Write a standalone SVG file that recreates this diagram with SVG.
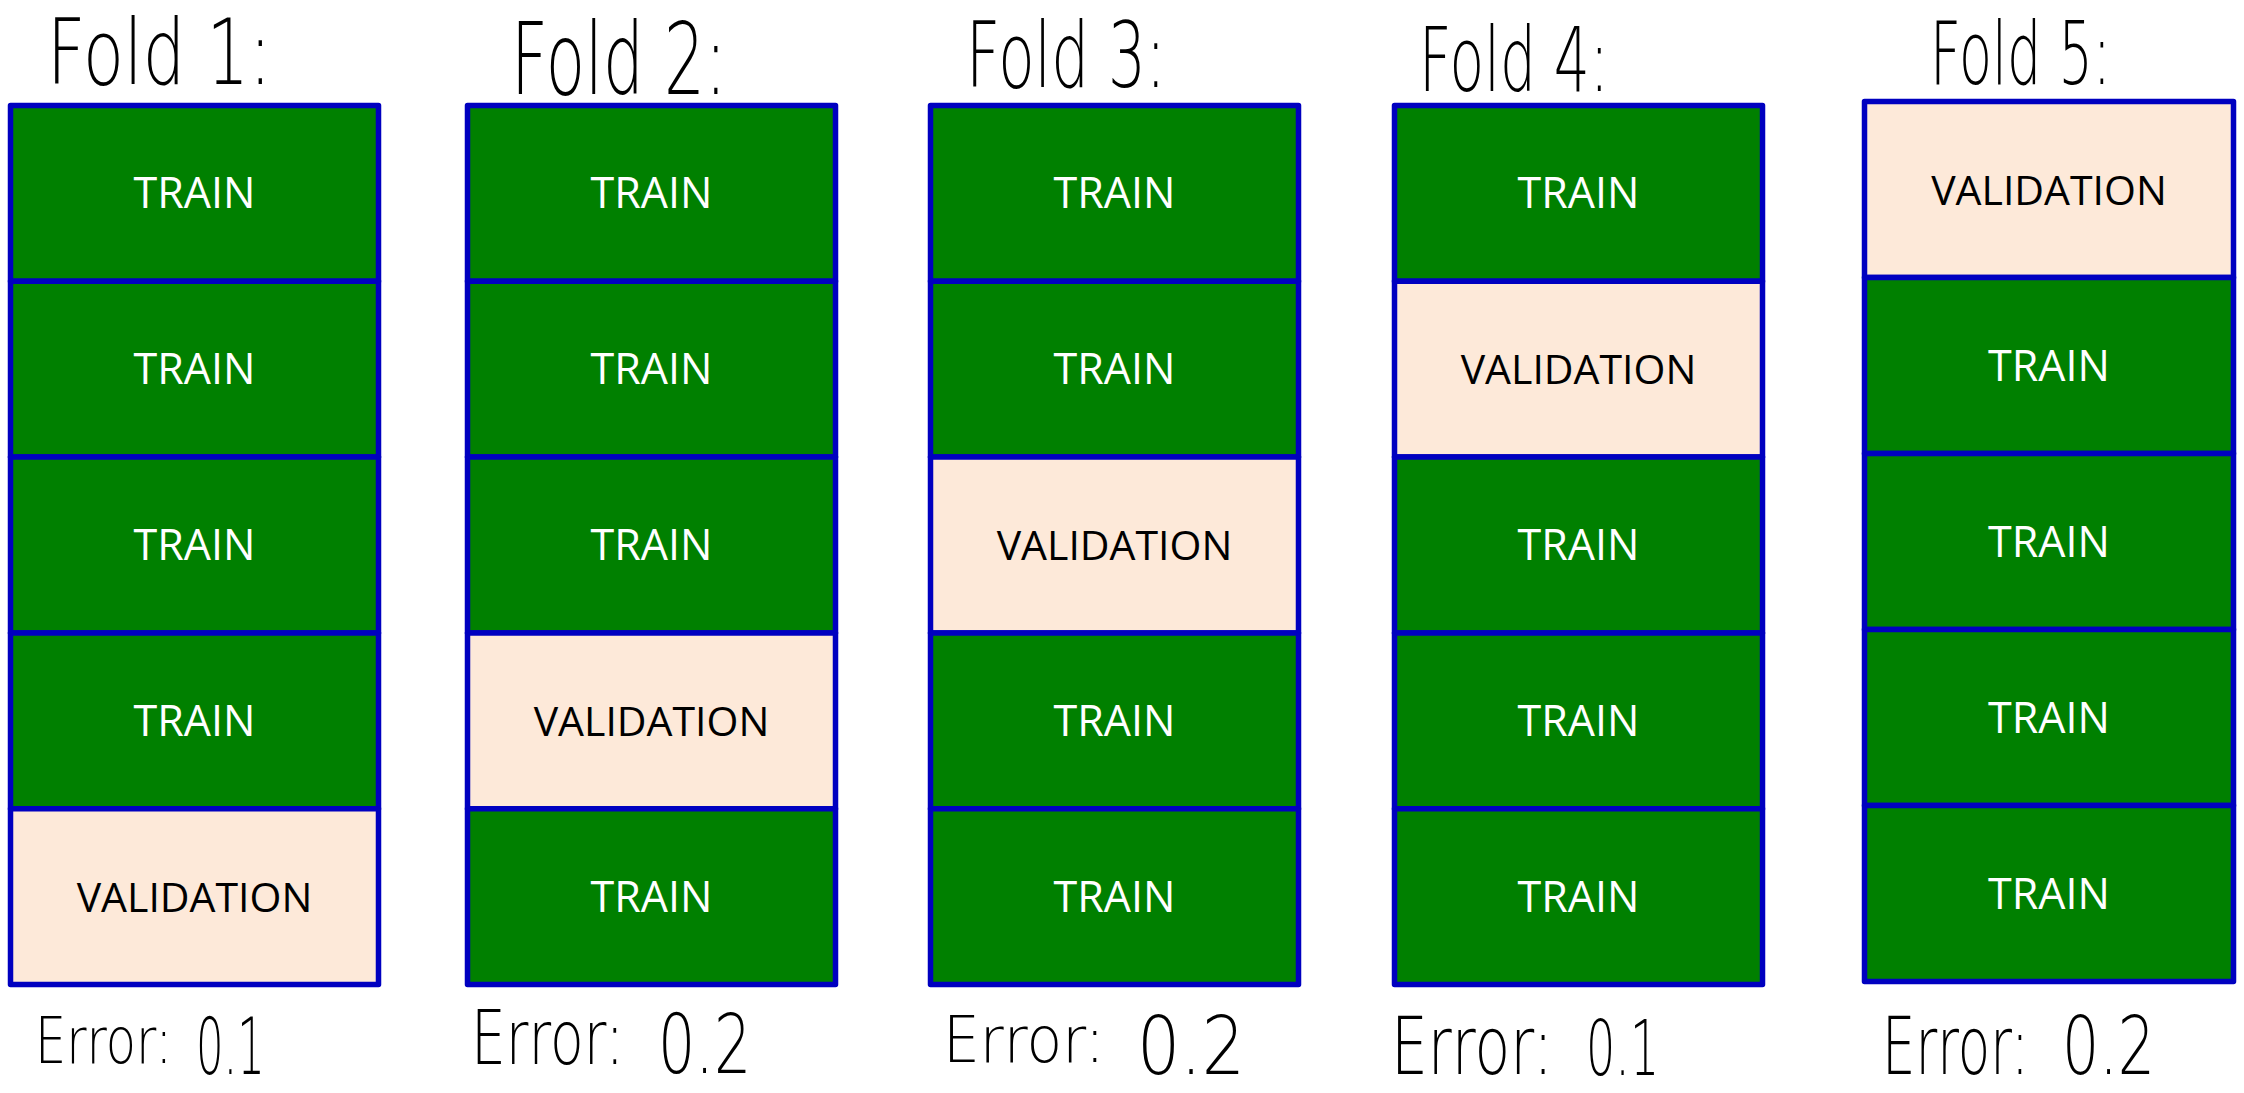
<svg xmlns="http://www.w3.org/2000/svg" width="2244" height="1093" viewBox="0 0 2244 1093">
<style>
.cell{stroke:#0000C0;stroke-width:5.5;stroke-linejoin:round}
.tr{fill:#008000}
.va{fill:#FDE9D9}
.lbl{font-family:"Open Sans","Noto Sans","Liberation Sans",sans-serif;text-anchor:middle}
.lt{fill:#FFFFFF;font-size:43px}
.lv{fill:#000000;font-size:41px}
.hand{font-family:"DejaVu Sans","Liberation Sans",sans-serif;font-weight:200;fill:#000000}
</style>
<rect width="2244" height="1093" fill="#FFFFFF"/>
<g id="fold1">
<text class="hand" transform="translate(47,84) scale(0.744,1)" font-size="90">Fold 1:</text>
<rect class="cell tr" x="10.5" y="105.5" width="368" height="175.8"/>
<rect class="cell tr" x="10.5" y="281.3" width="368" height="175.8"/>
<rect class="cell tr" x="10.5" y="457.1" width="368" height="175.8"/>
<rect class="cell tr" x="10.5" y="632.9" width="368" height="175.8"/>
<rect class="cell va" x="10.5" y="808.7" width="368" height="175.8"/>
<text class="lbl lt" x="194.5" y="208.4">TRAIN</text>
<text class="lbl lt" x="194.5" y="384.2">TRAIN</text>
<text class="lbl lt" x="194.5" y="560">TRAIN</text>
<text class="lbl lt" x="194.5" y="735.8">TRAIN</text>
<text class="lbl lv" x="194.5" y="911.6">VALIDATION</text>
<text class="hand" transform="translate(35,1063) scale(0.772,1)" font-size="64">Error:</text>
<text class="hand" transform="translate(196,1074) scale(0.556,1)" font-size="78">0.1</text>
</g>
<g id="fold2">
<text class="hand" transform="translate(511,94) scale(0.643,1)" font-size="100">Fold 2:</text>
<rect class="cell tr" x="467.5" y="105.5" width="368" height="175.8"/>
<rect class="cell tr" x="467.5" y="281.3" width="368" height="175.8"/>
<rect class="cell tr" x="467.5" y="457.1" width="368" height="175.8"/>
<rect class="cell va" x="467.5" y="632.9" width="368" height="175.8"/>
<rect class="cell tr" x="467.5" y="808.7" width="368" height="175.8"/>
<text class="lbl lt" x="651.5" y="208.4">TRAIN</text>
<text class="lbl lt" x="651.5" y="384.2">TRAIN</text>
<text class="lbl lt" x="651.5" y="560">TRAIN</text>
<text class="lbl lv" x="651.5" y="735.8">VALIDATION</text>
<text class="lbl lt" x="651.5" y="911.6">TRAIN</text>
<text class="hand" transform="translate(471,1064) scale(0.745,1)" font-size="74">Error:</text>
<text class="hand" transform="translate(658,1073) scale(0.715,1)" font-size="82">0.2</text>
</g>
<g id="fold3">
<text class="hand" transform="translate(966,87) scale(0.662,1)" font-size="90">Fold 3:</text>
<rect class="cell tr" x="930.5" y="105.5" width="368" height="175.8"/>
<rect class="cell tr" x="930.5" y="281.3" width="368" height="175.8"/>
<rect class="cell va" x="930.5" y="457.1" width="368" height="175.8"/>
<rect class="cell tr" x="930.5" y="632.9" width="368" height="175.8"/>
<rect class="cell tr" x="930.5" y="808.7" width="368" height="175.8"/>
<text class="lbl lt" x="1114.5" y="208.4">TRAIN</text>
<text class="lbl lt" x="1114.5" y="384.2">TRAIN</text>
<text class="lbl lv" x="1114.5" y="560">VALIDATION</text>
<text class="lbl lt" x="1114.5" y="735.8">TRAIN</text>
<text class="lbl lt" x="1114.5" y="911.6">TRAIN</text>
<text class="hand" transform="translate(943,1062) scale(0.911,1)" font-size="64">Error:</text>
<text class="hand" transform="translate(1137,1074) scale(0.85,1)" font-size="80">0.2</text>
</g>
<g id="fold4">
<text class="hand" transform="translate(1419,91) scale(0.636,1)" font-size="89">Fold 4:</text>
<rect class="cell tr" x="1394.5" y="105.5" width="368" height="175.8"/>
<rect class="cell va" x="1394.5" y="281.3" width="368" height="175.8"/>
<rect class="cell tr" x="1394.5" y="457.1" width="368" height="175.8"/>
<rect class="cell tr" x="1394.5" y="632.9" width="368" height="175.8"/>
<rect class="cell tr" x="1394.5" y="808.7" width="368" height="175.8"/>
<text class="lbl lt" x="1578.5" y="208.4">TRAIN</text>
<text class="lbl lv" x="1578.5" y="384.2">VALIDATION</text>
<text class="lbl lt" x="1578.5" y="560">TRAIN</text>
<text class="lbl lt" x="1578.5" y="735.8">TRAIN</text>
<text class="lbl lt" x="1578.5" y="911.6">TRAIN</text>
<text class="hand" transform="translate(1391,1074) scale(0.729,1)" font-size="80">Error:</text>
<text class="hand" transform="translate(1586,1075) scale(0.598,1)" font-size="77">0.1</text>
</g>
<g id="fold5">
<text class="hand" transform="translate(1930,84) scale(0.613,1)" font-size="88">Fold 5:</text>
<rect class="cell va" x="1864.5" y="101.5" width="369" height="176"/>
<rect class="cell tr" x="1864.5" y="277.5" width="369" height="176"/>
<rect class="cell tr" x="1864.5" y="453.5" width="369" height="176"/>
<rect class="cell tr" x="1864.5" y="629.5" width="369" height="176"/>
<rect class="cell tr" x="1864.5" y="805.5" width="369" height="176"/>
<text class="lbl lv" x="2049" y="204.5">VALIDATION</text>
<text class="lbl lt" x="2049" y="380.5">TRAIN</text>
<text class="lbl lt" x="2049" y="556.5">TRAIN</text>
<text class="lbl lt" x="2049" y="732.5">TRAIN</text>
<text class="lbl lt" x="2049" y="908.5">TRAIN</text>
<text class="hand" transform="translate(1882,1074) scale(0.662,1)" font-size="80">Error:</text>
<text class="hand" transform="translate(2062,1074) scale(0.732,1)" font-size="80">0.2</text>
</g>
<g id="connectors"></g>
</svg>
